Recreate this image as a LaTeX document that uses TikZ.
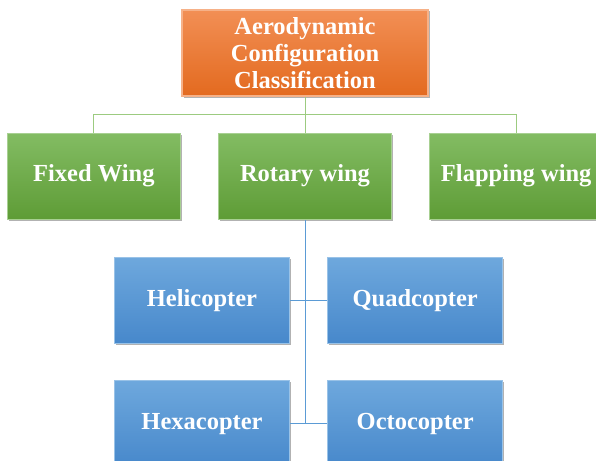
\documentclass[tikz,border=0pt]{standalone}
\usepackage{fontspec}
\setmainfont{Liberation Serif}
\usetikzlibrary{positioning, shadows, calc}

\definecolor{orangetop}{HTML}{F28F55}
\definecolor{orangebot}{HTML}{E36A1F}
\definecolor{greentop}{HTML}{83BC63}
\definecolor{greenbot}{HTML}{5E9C36}
\definecolor{bluetop}{HTML}{6EA8DD}
\definecolor{bluebot}{HTML}{4788CB}
\definecolor{greenline}{HTML}{9CCB80}
\definecolor{blueline}{HTML}{5B9BD5}

\tikzset{
box/.style={rectangle, text=white, align=center, inner sep=0pt, line width=1.2pt,
  font=\fontsize{24.5}{27}\selectfont\bfseries,
  drop shadow={shadow xshift=1.5pt, shadow yshift=-1.5pt, opacity=.3, fill=black}}, % common look of all boxes
topbox/.style={box, minimum width=246pt, minimum height=86pt, top color=orangetop, bottom color=orangebot, draw=orangetop!70!white}, % root of the tree
wingbox/.style={box, minimum width=173pt, minimum height=86pt, top color=greentop, bottom color=greenbot, draw=greentop!70!white}, % second level
copterbox/.style={box, minimum width=175pt, minimum height=86pt, top color=bluetop, bottom color=bluebot, draw=bluetop!70!white}, % rotary wing types
greenwire/.style={draw=greenline, line width=1pt}, % green connectors
bluewire/.style={draw=blueline, line width=1pt}, % blue connectors
node distance=37pt, % gap between neighbouring boxes
}

\begin{document}
\begin{tikzpicture}[x=1pt, y=-1pt]
        \useasboundingbox (0,0) rectangle (596,460);
        \node[topbox] (aero) at (305,53) {Aerodynamic\\Configuration\\Classification};
        \node[wingbox, below=36pt of aero] (rotary) {Rotary wing};
        \node[wingbox, left=of rotary] (fixed) {Fixed Wing};
        \node[wingbox, right=of rotary] (flapping) {Flapping wing};
        \node[copterbox, below=of rotary, xshift=-103pt] (heli) {Helicopter};
        \node[copterbox, right=of heli] (quad) {Quadcopter};
        \node[copterbox, below=36pt of heli] (hexa) {Hexacopter};
        \node[copterbox, below=36pt of quad] (octo) {Octocopter};
        \coordinate (bus) at ($(aero.south)!0.5!(rotary.north)$);
        \draw[greenwire] (aero.south) -- (rotary.north)
                (fixed.north) |- (bus) -| (flapping.north);
        \draw[bluewire] (rotary.south) -- (rotary.south |- hexa.east)
                (heli.east) -- (quad.west)
                (hexa.east) -- (octo.west);
    \end{tikzpicture}
\end{document}
